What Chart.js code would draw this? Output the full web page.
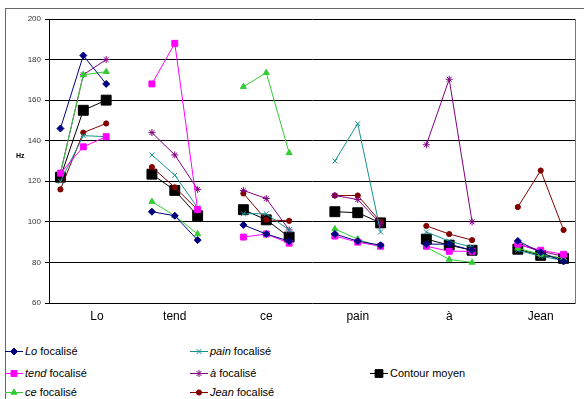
<!DOCTYPE html>
<html>
<head>
<meta charset="utf-8">
<script src="https://cdn.jsdelivr.net/npm/chart.js@4.4.1/dist/chart.umd.min.js"></script>
<style>
  body { margin: 0; background: #fff; font-family: "Liberation Sans", Arial, sans-serif; }
  #wrap { position: relative; width: 584px; height: 399px; overflow: hidden; }
  #frame { position: absolute; left: 5px; top: 8px; width: 640px; height: 440px;
           border-left: 1px solid #666; border-top: 1px solid #666; }
  #chart { position: absolute; left: 0; top: 0; }
  #hz { position: absolute; left: 16px; top: 152px; font-size: 7px; font-weight: bold; color: #000; }
  .leg { position: absolute; font-size: 11px; color: #000; white-space: nowrap; height: 14px; line-height: 14px; }
  .leg canvas { vertical-align: middle; margin-right: 2px; position: relative; top: -1px; }
</style>
</head>
<body>
<div id="wrap">
  <div id="frame"></div>
  <canvas id="chart" width="584" height="340"></canvas>
  <div id="hz">Hz</div>
</div>
<script>
// Mots de la phrase (un groupe de 3 points par mot)
var groups = ['Lo', 'tend', 'ce', 'pain', 'à', 'Jean'];
var tickPos = [1.6, 5, 9, 13, 17, 21];

// F0 (Hz), 3 valeurs par mot
var loFoc    = [146, 182, 168,   105, 103, 91,    98.5, 94, 90.5,   94, 90.5, 88.5,   89, 89, 86,       90.6, 85, 80.5];
var tendFoc  = [124, 137, 142,   168, 188, 106,   92.5, 94, 89.5,   93, 90, 88,       88, 85.5, 85.5,   89, 86, 84];
var ceFoc    = [124, 172.5, 174, 110, 103, 94,    166.6, 173.5, 134, 96.5, 91.5, 87.5, 87.5, 81.5, 80,  87, 84, 82];
var painFoc  = [120, 142.5, 142, 133, 123, 107,   104, 104, 96,     130, 148.4, 95,   95, 90.5, 87.5,   86, 83, 81];
var aFoc     = [124, 172.5, 180, 144, 133, 116,   115.5, 111.5, 96, 113, 111, 99,     138, 170.3, 100,  89, 85.5, 83];
var jeanFoc  = [116, 144, 148.5, 127, 117, 106,   114, 101, 100.5,  113, 113, 100,    98, 94, 91,       107.3, 125.3, 96];
var contour  = [122, 155, 160,   123.5, 115.5, 103, 106, 101, 92.5, 105, 104.5, 99.5, 91.5, 88.5, 86,   86.5, 83.5, 82];

// construit les points avec un trou entre chaque mot
function toPoints(arr) {
    var pts = [];
    for (var g = 0; g < groups.length; g++) {
        for (var i = 0; i < 3; i++) {
            pts.push({ x: g * 4 + i, y: arr[g * 3 + i] });
        }
        if (g < groups.length - 1) pts.push({ x: g * 4 + 3, y: null });
    }
    return pts;
}

var series = [
    { word: 'Lo',   rest: ' focalisé', data: loFoc,   color: '#000080', style: 'rectRot',  r: 3.5, col: 0, row: 0 },
    { word: 'tend', rest: ' focalisé', data: tendFoc, color: '#ff00ff', style: 'rect',     r: 4.2, col: 0, row: 1 },
    { word: 'ce',   rest: ' focalisé', data: ceFoc,   color: '#33cc33', style: 'triangle', r: 3.5, col: 0, row: 2 },
    { word: 'pain', rest: ' focalisé', data: painFoc, color: '#169090', style: 'crossRot', r: 3.5, col: 1, row: 0 },
    { word: 'à',    rest: ' focalisé', data: aFoc,    color: '#800080', style: 'star',     r: 3.5, col: 1, row: 1 },
    { word: 'Jean', rest: ' focalisé', data: jeanFoc, color: '#800000', style: 'circle',   r: 2.6, col: 1, row: 2 },
    { word: '',     rest: 'Contour moyen', data: contour, color: '#000000', style: 'rect', r: 7,   col: 2, row: 1 }
];

var datasets = series.map(function (s) {
    return {
        label: (s.word + s.rest).trim(),
        data: toPoints(s.data),
        borderColor: s.color,
        backgroundColor: s.color,
        pointStyle: s.style,
        pointRadius: s.r,
        pointHoverRadius: s.r,
        pointBorderWidth: 1,
        borderWidth: 1,
        spanGaps: false,
        tension: 0
    };
});

new Chart(document.getElementById('chart'), {
    type: 'line',
    data: { datasets: datasets },
    options: {
        responsive: false,
        animation: false,
        devicePixelRatio: 1,
        layout: { padding: { top: 19, right: 9, left: 0, bottom: 0 } },
        plugins: { legend: { display: false }, tooltip: { enabled: false } },
        scales: {
            x: {
                type: 'linear',
                min: -0.5,
                max: 22.5,
                grid: { display: false, drawTicks: false },
                border: { display: false },
                afterBuildTicks: function (scale) {
                    scale.ticks = tickPos.map(function (v) { return { value: v }; });
                },
                ticks: {
                    autoSkip: false,
                    maxRotation: 0,
                    padding: 6,
                    color: '#000',
                    font: { family: '"Liberation Sans", Arial', size: 12 },
                    callback: function (v, i) { return groups[i]; }
                },
                afterFit: function (scale) { scale.height = 37; }
            },
            y: {
                min: 60,
                max: 200,
                ticks: {
                    stepSize: 20,
                    padding: 4,
                    color: '#333',
                    font: { family: '"Liberation Sans", Arial', size: 8 }
                },
                grid: { color: '#000', lineWidth: 1, tickLength: 4 },
                border: { color: '#000', width: 1 },
                afterFit: function (scale) { scale.width = 49; }
            },
            yr: {
                position: 'right',
                min: 60,
                max: 200,
                ticks: { display: false },
                grid: { display: false },
                border: { color: '#777', width: 1 },
                afterFit: function (scale) { scale.width = 0; }
            }
        }
    }
});

// Légende HTML (mots en italique)
var colX = [5, 190, 370];
var rowY = [344, 366, 385];
var wrap = document.getElementById('wrap');
series.forEach(function (s) {
    var div = document.createElement('div');
    div.className = 'leg';
    div.style.left = colX[s.col] + 'px';
    div.style.top = rowY[s.row] + 'px';
    var c = document.createElement('canvas');
    c.width = 18; c.height = 12;
    var ctx = c.getContext('2d');
    ctx.strokeStyle = s.color;
    ctx.fillStyle = s.color;
    ctx.lineWidth = 1;
    ctx.beginPath();
    ctx.moveTo(0, 6.5);
    ctx.lineTo(18, 6.5);
    ctx.stroke();
    Chart.helpers.drawPoint(ctx, { pointStyle: s.style, radius: Math.min(s.r, 5.5), rotation: 0, borderWidth: 1 }, 9, 6.5);
    div.appendChild(c);
    if (s.word) {
        var em = document.createElement('i');
        em.textContent = s.word;
        div.appendChild(em);
    }
    div.appendChild(document.createTextNode(s.rest));
    wrap.appendChild(div);
});
</script>
</body>
</html>
